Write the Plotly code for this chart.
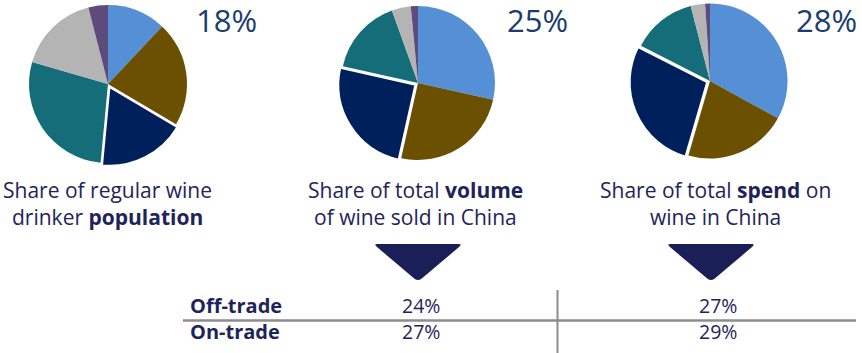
import plotly.graph_objects as go

# Segment shares (%) for each pie, clockwise from 12 o'clock
segments = ["Segment A", "Segment B", "Focus segment", "Segment D", "Segment E", "Segment F"]
population_share = [12, 21.5, 18, 28, 16.5, 4]
volume_share = [28.5, 25, 25, 16, 4, 1.5]
spend_share = [33, 21.5, 28, 13.5, 3, 1]
focus_index = 2

# Highlighted segment share, shown next to each pie
focus_labels = ["18%", "25%", "28%"]

# Two-line captions under each pie
captions = [
    ["Share of regular wine", "drinker <b>population</b>"],
    ["Share of total <b>volume</b>", "of wine sold in China"],
    ["Share of total <b>spend</b> on", "wine in China"],
]

# Channel breakdown table
channels = ["Off-trade", "On-trade"]
volume_by_channel = ["24%", "27%"]
spend_by_channel = ["27%", "29%"]

colors = ["#5590d6", "#6a5000", "#00205b", "#166d7a", "#b4b4b4", "#5d4b7d"]
TEXT = "#1e245a"
PCT = "#1a3c6e"
GRID = "#8c8c8c"

W, H = 862, 353
PULL = 0.04
CAP_SIZE = 21

# pie centres / radii in pixels
pie_specs = [
    (population_share, 108, 84, 79),
    (volume_share, 418, 83, 77),
    (spend_share, 710, 81, 77.5),
]

fig = go.Figure()

for vals, cx, cy, r in pie_specs:
    half = r * (1 + PULL)
    pulls = [PULL if i == focus_index else 0 for i in range(len(vals))]
    widths = [2 if i == focus_index else 0 for i in range(len(vals))]
    y0 = max(0.0, 1 - (cy + half) / H)
    y1 = min(1.0, 1 - (cy - half) / H)
    fig.add_trace(go.Pie(
        labels=segments,
        values=vals,
        sort=False,
        direction="clockwise",
        rotation=0,
        pull=pulls,
        marker=dict(colors=colors, line=dict(color="white", width=widths)),
        textinfo="none",
        hoverinfo="label+percent",
        showlegend=False,
        domain=dict(x=[(cx - half) / W, (cx + half) / W], y=[y0, y1]),
    ))

annotations = []
shapes = []


def text(x, y, s, size, color=TEXT, xanchor="center"):
    annotations.append(dict(x=x, y=y, text=s, showarrow=False, borderpad=0,
                            font=dict(family="Open Sans", size=size, color=color),
                            xanchor=xanchor, yanchor="middle"))


# focus share labels
for label, x in zip(focus_labels, [226, 537, 826]):
    text(x, 20, label, 31, color=PCT)

# captions under each pie
for lines, x in zip(captions, [107, 415, 715]):
    text(x, 189.5, lines[0], CAP_SIZE)
    text(x, 216.5, lines[1], CAP_SIZE)


def rounded_triangle(x0, x1, ytop, ytip, rad=4):
    xm = (x0 + x1) / 2
    return (f"M {x0 + rad},{ytop} L {x1 - rad},{ytop} "
            f"Q {x1},{ytop} {x1 - rad * 0.8},{ytop + rad * 0.7} "
            f"L {xm + rad * 0.8},{ytip - rad * 0.5} "
            f"Q {xm},{ytip} {xm - rad * 0.8},{ytip - rad * 0.5} "
            f"L {x0 + rad * 0.8},{ytop + rad * 0.7} "
            f"Q {x0},{ytop} {x0 + rad},{ytop} Z")


for xc in [418, 711]:
    shapes.append(dict(type="path", xref="x", yref="y",
                       path=rounded_triangle(xc - 44.5, xc + 44.5, 244, 281),
                       fillcolor="#1b1f58", line=dict(width=0)))

# table grid
shapes.append(dict(type="line", xref="x", yref="y", x0=183, x1=856, y0=320.5, y1=320.5,
                   line=dict(color=GRID, width=2.5)))
shapes.append(dict(type="line", xref="x", yref="y", x0=557.5, x1=557.5, y0=290, y1=353,
                   line=dict(color=GRID, width=2)))

row_y = [305.5, 331.5]
for name, y in zip(channels, row_y):
    text(189, y, f"<b>{name}</b>", 20, xanchor="left")
for v, y in zip(volume_by_channel, row_y):
    text(421, y, v, 19.5)
for v, y in zip(spend_by_channel, row_y):
    text(718, y, v, 19.5)

fig.update_layout(
    width=W, height=H,
    margin=dict(l=0, r=0, t=0, b=0),
    paper_bgcolor="white", plot_bgcolor="white",
    xaxis=dict(range=[0, W], visible=False, fixedrange=True),
    yaxis=dict(range=[H, 0], visible=False, fixedrange=True),
    annotations=annotations,
    shapes=shapes,
    showlegend=False,
)

fig.write_html("out.html")
